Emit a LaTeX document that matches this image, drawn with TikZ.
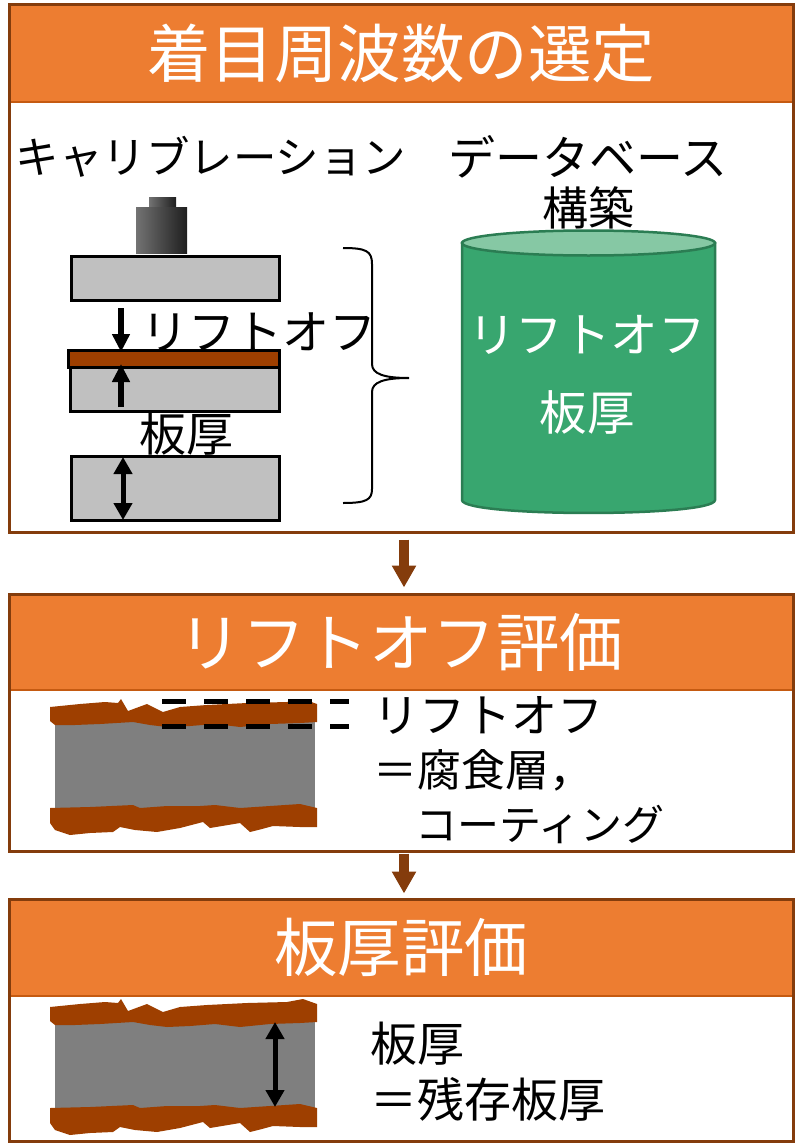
\documentclass[tikz,border=0pt]{standalone}
\usepackage{fontspec}
\setmainfont{Noto Sans CJK JP}
\usetikzlibrary{arrows.meta}

\definecolor{hdrorange}{RGB}{237,125,49}
\definecolor{hdrline}{RGB}{197,90,17}
\definecolor{edgebrown}{RGB}{132,60,12}
\definecolor{rust}{RGB}{158,63,0}
\definecolor{plategray}{RGB}{192,192,192}
\definecolor{steelgray}{RGB}{127,127,127}
\definecolor{dbgreen}{RGB}{56,166,111}
\definecolor{dbtop}{RGB}{134,200,164}
\definecolor{dbedge}{RGB}{43,125,83}

\tikzset{
	panel/.style={draw=edgebrown, line width=3pt, minimum width=784pt, inner sep=0pt},
	header/.style={fill=hdrorange, draw=hdrline, line width=1.5pt, minimum width=784pt, inner sep=0pt, text=white, font=\fontsize{63.5}{70}\selectfont},
	txt/.style={inner sep=0pt, font=\fontsize{46}{54}\selectfont},
	plate/.style={draw=black, line width=3pt, fill=plategray, inner sep=0pt},
	flowarrow/.style={draw=edgebrown, line width=10pt, -{Triangle[length=22pt,width=23pt]}},
	dimarrow/.style={line width=6pt, -{Triangle[length=18pt,width=17pt]}},
	dimboth/.style={line width=5pt, {Triangle[length=17pt,width=18pt]}-{Triangle[length=17pt,width=18pt]}},
}

% steel plate with corroded surfaces
\newcommand{\corrodedplate}{%
	\fill[steelgray] (55,722) rectangle (315,810);
	\fill[rust] (50,707) -- (80,704) -- (105,702) -- (118,703) -- (121,699) -- (128,711) -- (147,704)
		-- (163,712) -- (180,707) -- (207,705) -- (247,703) -- (287,702) -- (303,699) -- (317,704)
		-- (317,722) -- (300,723) -- (270,724) -- (240,727) -- (215,724) -- (190,726) -- (167,727)
		-- (150,725) -- (133,722) -- (100,724) -- (75,725) -- (55,725) -- (50,721) -- cycle;
	\fill[rust] (50,808) -- (90,807) -- (133,805) -- (140,808) -- (167,806) -- (200,806) -- (215,805)
		-- (240,808) -- (270,806) -- (300,804) -- (317,808) -- (317,827) -- (300,827) -- (273,826)
		-- (262,829) -- (250,832) -- (240,823) -- (222,826) -- (210,828) -- (203,822) -- (180,828)
		-- (157,832) -- (135,830) -- (120,827) -- (113,832) -- (90,833) -- (70,835) -- (55,830)
		-- (50,823) -- cycle;
}

\begin{document}
\begin{tikzpicture}[x=1pt, y=-1pt]
	\useasboundingbox (0,0) rectangle (798,1145);

	% Headers
	\node[header, minimum height=97pt] (head1) at (401,53.5) {着目周波数の選定};
	\node[header, minimum height=96pt] (head2) at (401,642) {リフトオフ評価};
	\node[header, minimum height=97pt] (head3) at (401,947.5) {板厚評価};

	% Panels
	\node[panel, minimum height=527pt] (box1) at (401,268.5) {};
	\node[panel, minimum height=257pt] (box2) at (401,722.5) {};
	\node[panel, minimum height=242pt] (box3) at (401,1020) {};

	\draw[flowarrow, shorten <=6pt, shorten >=5pt] ([xshift=3pt]box1.south) -- ([xshift=3pt]box2.north);
	\draw[flowarrow, shorten <=1pt, shorten >=4pt] ([xshift=3pt]box2.south) -- ([xshift=3pt]box3.north);

	% Calibration
	\node[txt, font=\fontsize{43.5}{54}\selectfont] (calib) at (211,157) {キャリブレーション};
	\shade[left color=black!55, middle color=black!40, right color=black!88] (149,197) rectangle (176,207);
	\shade[left color=black!55, middle color=black!40, right color=black!88] (136,207) rectangle (187,253);
	\node[plate, minimum width=208pt, minimum height=44pt] (plateA) at (175.5,278) {};
	\node[plate, minimum width=209pt, minimum height=59pt] (plateB) at (174.5,381.5) {};
	\draw[line width=3pt, fill=rust] (plateB.north west) rectangle (279,367);
	\node[plate, minimum width=208pt, minimum height=64pt] (plateC) at (175,488) {};

	\coordinate (liftA) at (121,308);
	\coordinate (liftB) at (121,352);
	\coordinate (liftC) at (121,407);
	\coordinate (liftD) at (121,364);
	\coordinate (thickA) at (123,457);
	\coordinate (thickB) at (123,520);
	\draw[dimarrow] (liftA) -- (liftB);
	\draw[dimarrow] (liftC) -- (liftD);
	\draw[dimboth] (thickA) -- (thickB);
	\node[txt, font=\fontsize{47}{54}\selectfont] (liftoff) at (259,332) {リフトオフ};
	\node[txt, font=\fontsize{47}{54}\selectfont] (thick) at (186,434) {板厚};

	% brace
	\draw[line width=2pt] (343,248) .. controls (366,248) and (372,251) .. (372,264) -- (372,364)
		.. controls (372,374) and (384,378) .. (409,378) .. controls (384,378) and (372,382) .. (372,392)
		-- (372,489) .. controls (372,500) and (366,503) .. (343,503);

	% Database
	\node[txt, font=\fontsize{47}{54}\selectfont] (dbname) at (588,157) {データベース};
	\node[txt] (dbbuild) at (588,208) {構築};
	\filldraw[fill=dbgreen, draw=dbedge, line width=2.5pt] (462,243) -- (462,500)
		.. controls (462,517.3) and (715,517.3) .. (715,500) -- (715,243) -- cycle;
	\filldraw[fill=dbtop, draw=dbedge, line width=2.5pt] (588.5,243) ellipse [x radius=126.5pt, y radius=12.5pt];
	\node[txt, text=white, font=\fontsize{47.5}{54}\selectfont] (dblift) at (587,335) {リフトオフ};
	\node[txt, text=white, font=\fontsize{47.5}{54}\selectfont] (dbthick) at (587,412) {板厚};

	% Lift-off evaluation
	\corrodedplate
	\draw[line width=5pt, dash pattern=on 24pt off 18pt] (162,701.5) -- (349,701.5);
	\draw[line width=5pt, dash pattern=on 24pt off 18pt] (162,726) -- (349,726);
	\node[txt, anchor=west, align=left] (liftnote) at (373,770)
		{リフトオフ\\{\fontsize{44}{54}\selectfont ＝腐食層，}\\\hspace*{42pt}{\fontsize{42}{54}\selectfont コーティング}};

	% Thickness evaluation
	\begin{scope}[shift={(0,300)}]
		\corrodedplate
	\end{scope}
	\coordinate (wallA) at (275,1022);
	\coordinate (wallB) at (275,1107);
	\draw[dimboth] (wallA) -- (wallB);
	\node[txt, anchor=west, align=left, font=\fontsize{47}{56}\selectfont] (thicknote) at (370,1072) {板厚\\＝残存板厚};
\end{tikzpicture}
\end{document}
